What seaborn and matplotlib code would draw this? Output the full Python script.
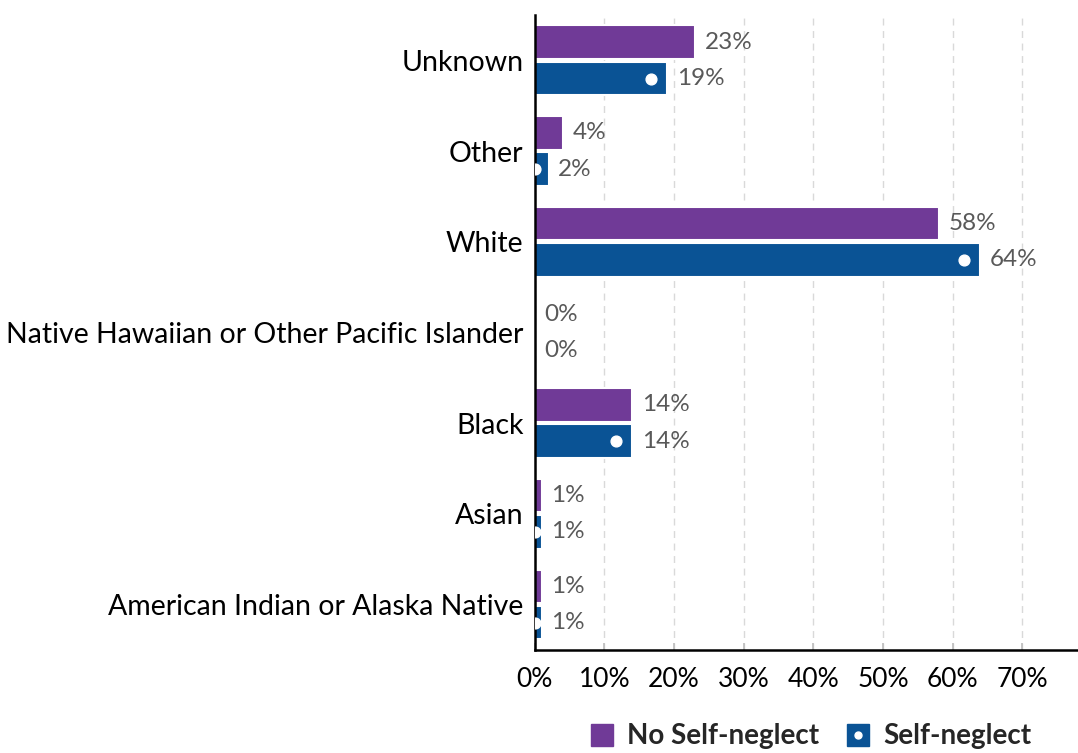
import pandas as pd
import matplotlib.pyplot as plt
import seaborn as sns
from matplotlib.lines import Line2D
from matplotlib.legend_handler import HandlerTuple
from matplotlib.ticker import PercentFormatter

categories = ['Unknown', 'Other', 'White', 'Native Hawaiian or Other Pacific Islander',
              'Black', 'Asian', 'American Indian or Alaska Native']
no_self_neglect = [0.23, 0.04, 0.58, 0.00, 0.14, 0.01, 0.01]
self_neglect = [0.19, 0.02, 0.64, 0.00, 0.14, 0.01, 0.01]
groups = ['No Self-neglect', 'Self-neglect']
colors = ['#703A97', '#0A5395']

df = pd.DataFrame({
    'race': categories * 2,
    'share': no_self_neglect + self_neglect,
    'group': [groups[0]] * len(categories) + [groups[1]] * len(categories),
})

sns.set_theme(style='white')
plt.rcParams['font.family'] = ['Lato', 'DejaVu Sans']

fig = plt.figure(figsize=(10.78, 7.53), dpi=100)
ax = fig.add_axes([0.496, 0.137, 0.504, 0.843])

sns.barplot(data=df, y='race', x='share', hue='group', order=categories,
            hue_order=groups, palette=colors, orient='h', width=0.8,
            edgecolor='white', linewidth=1.5, saturation=1, legend=False, ax=ax)
ax.set_ylim(len(categories) - 0.5, -0.5)

# leave a small white gap between the two bars of a group
for bar in ax.patches:
    bar.set_height(bar.get_height() - 0.03)
    bar.set_y(bar.get_y() + 0.015)

# white dot near the end of each self-neglect bar
for bar, v in zip(ax.containers[1], self_neglect):
    if v > 0:
        ax.scatter(max(v - 0.023, 0), bar.get_y() + bar.get_height() / 2,
                   s=60, color='white', zorder=5, clip_on=True)

for cont, vals in zip(ax.containers, [no_self_neglect, self_neglect]):
    ax.bar_label(cont, labels=[f'{v:.0%}' for v in vals], padding=7,
                 fontsize=17.5, color='#595959')

ax.set_xlim(0, 0.78)
ax.set_xticks([i / 10 for i in range(8)])
ax.xaxis.set_major_formatter(PercentFormatter(1.0, decimals=0))
ax.grid(axis='x', color='#d9d9d9', linestyle=(0, (5, 4)), linewidth=1)
ax.set_axisbelow(True)
ax.set_xlabel('')
ax.set_ylabel('')
ax.tick_params(axis='x', labelsize=19, colors='#bfbfbf', labelcolor='black',
               direction='in', length=5, pad=12, bottom=True)
ax.tick_params(axis='y', labelsize=20.5, length=0, pad=8, labelcolor='black')

for s in ['top', 'right']:
    ax.spines[s].set_visible(False)
for s in ['left', 'bottom']:
    ax.spines[s].set_color('black')
    ax.spines[s].set_linewidth(1.8)

h1 = Line2D([], [], marker='s', linestyle='', markersize=16, color=colors[0])
h2 = Line2D([], [], marker='s', linestyle='', markersize=16, color=colors[1])
h2dot = Line2D([], [], marker='o', linestyle='', markersize=5, color='white')
fig.legend([h1, (h2, h2dot)], groups, handler_map={tuple: HandlerTuple(ndivide=1)},
           loc='center', bbox_to_anchor=(0.751, 0.022), ncol=2, frameon=False,
           prop={'weight': 'bold', 'size': 20}, handletextpad=0.4,
           columnspacing=0.9, handlelength=1.0)

plt.savefig('out.png', dpi=100)
